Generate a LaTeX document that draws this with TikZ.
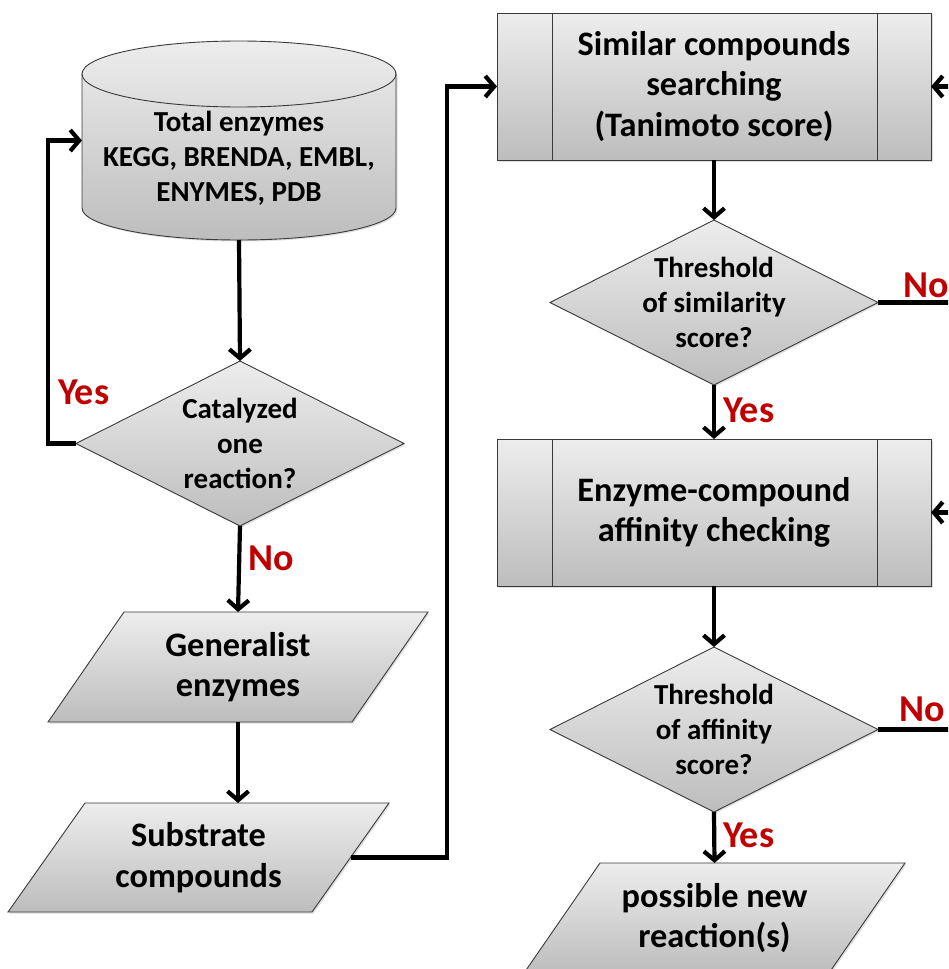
\documentclass[tikz,border=0pt]{standalone}
\usepackage{fontspec}
\setmainfont{Carlito}
\usetikzlibrary{arrows.meta,calc,shapes.geometric,shadows}
\definecolor{shadetop}{HTML}{EDEDED}
\definecolor{shadebot}{HTML}{BDBDBD}
\definecolor{edgegray}{HTML}{3A3A3A}
\definecolor{answerred}{HTML}{C00000}
\begin{document}
\begin{tikzpicture}[x=1pt,y=-1pt,
  shapefill/.style={draw=edgegray, line width=0.9pt, top color=shadetop, bottom color=shadebot,
    drop shadow={opacity=0.25, shadow xshift=1.5pt, shadow yshift=-1.5pt}},
  frame/.style={rectangle, inner sep=0pt, outer sep=0pt},
  decision/.style={diamond, shapefill, inner sep=0pt, outer sep=0pt, minimum width=328pt, minimum height=165pt},
  process/.style={rectangle, shapefill, inner sep=0pt, outer sep=0pt, minimum width=434pt, minimum height=147pt},
  sideline/.style={draw=edgegray, line width=0.9pt},
  txtbig/.style={align=center, font=\fontsize{34.3}{40.5}\selectfont\bfseries, inner sep=0pt},
  txtsmall/.style={align=center, font=\fontsize{29}{35}\selectfont\bfseries, inner sep=0pt},
  answer/.style={text=answerred, font=\fontsize{38}{44}\selectfont\bfseries, inner sep=0pt, anchor=west},
  flow/.style={line width=4.2pt, -{Straight Barb[length=9pt,width=21pt]}},
  plainline/.style={line width=4.2pt}]
\clip (0,0) rectangle (948,969);

% ---------- left column ----------
% database cylinder
\node[frame, minimum width=314pt, minimum height=199pt] (db) at (239,140.5) {};
\path[shapefill] (82,74) -- (82,208) arc[start angle=180, end angle=0, x radius=157, y radius=32]
  -- (396,74) arc[start angle=0, end angle=-180, x radius=157, y radius=33] -- cycle;
\draw[sideline] (82,74) arc[start angle=180, end angle=0, x radius=157, y radius=33];
\node[txtsmall] (tdb) at (239,158) {Total enzymes\\KEGG, BRENDA, EMBL,\\ENYMES, PDB};

% decision: one reaction
\node[decision] (d1) at (240,443.5) {};
\node[txtsmall] (td1) at (d1) {Catalyzed\\one\\reaction?};

% generalist enzymes
\node[frame, minimum width=380pt, minimum height=110pt] (p1) at (238,667) {};
\path[shapefill] (p1.south west) -- ($(p1.north west)+(76,0)$) -- (p1.north east)
  -- ($(p1.south east)+(-76,0)$) -- cycle;
\node[txtbig] (tp1) at (p1) {Generalist\\enzymes};

% substrate compounds
\node[frame, minimum width=381pt, minimum height=109pt] (p2) at (198.5,857.5) {};
\path[shapefill] (p2.south west) -- ($(p2.north west)+(77,0)$) -- (p2.north east)
  -- ($(p2.south east)+(-77,0)$) -- cycle;
\node[txtbig] (tp2) at (p2) {Substrate\\compounds};

% ---------- right column ----------
\node[process] (b1) at (714,86.5) {};
\draw[sideline] ($(b1.north west)+(55,0)$) -- ($(b1.south west)+(55,0)$);
\draw[sideline] ($(b1.north east)+(-54,0)$) -- ($(b1.south east)+(-54,0)$);
\node[txtbig] (tb1) at (b1) {Similar compounds\\searching\\(Tanimoto score)};

\node[decision] (d2) at (714,302.5) {};
\node[txtsmall] (td2) at (d2) {Threshold\\of similarity\\score?};

\node[process] (b2) at (714,512.5) {};
\draw[sideline] ($(b2.north west)+(55,0)$) -- ($(b2.south west)+(55,0)$);
\draw[sideline] ($(b2.north east)+(-54,0)$) -- ($(b2.south east)+(-54,0)$);
\node[txtbig] (tb2) at (b2) {Enzyme-compound\\affinity checking};

\node[decision] (d3) at (714,729.5) {};
\node[txtsmall] (td3) at (d3) {Threshold\\of affinity\\score?};

\node[frame, minimum width=381pt, minimum height=110pt] (p3) at (714.5,918) {};
\path[shapefill] (p3.south west) -- ($(p3.north west)+(76,0)$) -- (p3.north east)
  -- ($(p3.south east)+(-76,0)$) -- cycle;
\node[txtbig] (tp3) at (p3) {possible new\\reaction(s)};

% ---------- connectors ----------
\coordinate (loopx) at (48,0);
\coordinate (risex) at (447,0);
\coordinate (p2out) at ($(p2.east)+(-38.5,0)$);
\coordinate (in1) at (970,86.5);
\coordinate (in2) at (970,512.5);
\coordinate (out2) at (970,302.5);
\coordinate (out3) at (970,729.5);

\draw[flow] (db.south) -- (d1.north);
\draw[flow] (d1.south) -- (p1.north);
\draw[flow] (p1.south) -- (p1.south |- p2.north);
\draw[flow] (d1.west) -- (loopx |- d1.west) -- (loopx |- db.west) -- (db.west);
\draw[flow] (p2out) -- (risex |- p2out) -- (risex |- b1.west) -- (b1.west);

\draw[flow] (b1.south) -- (d2.north);
\draw[flow] (d2.south) -- (b2.north);
\draw[flow] (b2.south) -- (d3.north);
\draw[flow] (d3.south) -- (p3.north);
\draw[flow] (in1) -- (b1.east);
\draw[flow] (in2) -- (b2.east);
\draw[plainline] (d2.east) -- (out2);
\draw[plainline] (d3.east) -- (out3);

% ---------- branch labels ----------
\node[answer] (yes1) at (58,392) {Yes};
\node[answer] (no1) at (248,558) {No};
\node[answer] (no2) at (903,285) {No};
\node[answer] (yes2) at (723,410) {Yes};
\node[answer] (no3) at (899,709) {No};
\node[answer] (yes3) at (723,835) {Yes};
\end{tikzpicture}
\end{document}
